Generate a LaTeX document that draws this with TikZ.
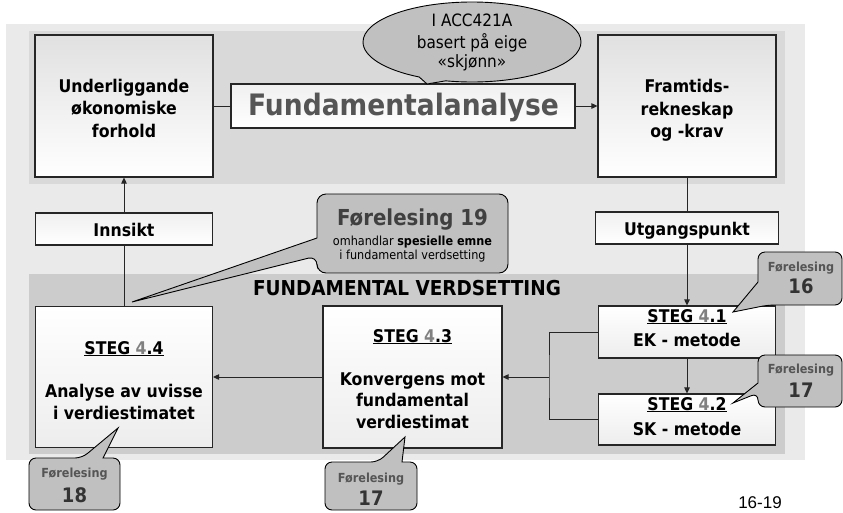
\documentclass[tikz,border=0pt]{standalone}
\usepackage{fontspec}
\setmainfont{DejaVu Sans Condensed}
\newfontfamily\arialf{Liberation Sans}
\usetikzlibrary{arrows.meta,shapes.callouts}
\definecolor{bgA}{HTML}{EAEAEA}
\definecolor{bgB}{HTML}{D9D9D9}
\definecolor{bgC}{HTML}{CCCCCC}
\definecolor{cg}{HTML}{C0C0C0}
\definecolor{tg}{HTML}{555555}
\definecolor{dg}{HTML}{808080}
\definecolor{ng}{HTML}{333333}
\begin{document}
\begin{tikzpicture}[x=1pt,y=-1pt,
  box/.style={draw=black!85, line width=1.1pt, top color=black!12, bottom color=white, inner sep=0pt},
  lbox/.style={draw=black!85, line width=1.1pt, top color=white, bottom color=black!7, inner sep=0pt},
  lab/.style={anchor=base, inner sep=0pt},
  bt/.style={lab, font=\bfseries\fontsize{17.5}{22}\selectfont},
  ct/.style={lab, font=\fontsize{17}{20}\selectfont},
  smf/.style={lab, font=\bfseries\fontsize{12.5}{15}\selectfont, text=tg},
  smn/.style={lab, font=\bfseries\fontsize{20}{24}\selectfont, text=ng},
  cal/.style={draw=black, line width=0.9pt, fill=cg},
  conn/.style={draw=black!85, line width=0.9pt},
  arr/.style={conn, -{Triangle[length=6pt,width=5.5pt]}}
]
\useasboundingbox (0,0) rectangle (843,512);
% backgrounds
\fill[white] (0,0) rectangle (843,512);
\fill[bgA] (6,24) rectangle (805,460);
\fill[bgB] (29,31) rectangle (785,184);
\fill[bgC] (29,274) rectangle (785,454);

% boxes
\node[box, minimum width=178pt, minimum height=142pt] (und) at (124,106) {};
\node[box, minimum width=178pt, minimum height=142pt] (fr) at (687,106) {};
\node[box, top color=black!6, minimum width=344pt, minimum height=44pt] (fa) at (403,106) {};
\node[box, top color=black!6, minimum width=177pt, minimum height=32pt] (inn) at (124,229) {};
\node[box, top color=black!6, minimum width=183pt, minimum height=32pt] (utg) at (687,228) {};
\node[lbox, minimum width=177pt, minimum height=141pt] (s44) at (124,377) {};
\node[lbox, minimum width=179pt, minimum height=142pt] (s43) at (412.5,377) {};
\node[lbox, minimum width=177pt, minimum height=52pt] (s41) at (687,332) {};
\node[lbox, minimum width=177pt, minimum height=51pt] (s42) at (687,419.5) {};

% connectors
\draw[conn] (und.east) -- (fa.west);
\draw[arr] (fa.east) -- (fr.west);
\draw[arr] (inn.north) -- (und.south);
\draw[conn] (s44.north) -- (inn.south);
\draw[conn] (fr.south) -- (utg.north);
\draw[arr] (utg.south) -- (s41.north);
\draw[arr] (s41.south) -- (s42.north);
\coordinate (jn) at (549,377);
\draw[conn] (s41.west) -| (jn) |- (s42.west);
\draw[arr] (jn) -- (s43.east);
\draw[arr] (s43.west) -- (s44.east);

% box texts
\node[bt] (u1) at (124,92) {Underliggande};
\node[bt] (u2) at (124,114.5) {økonomiske};
\node[bt] (u3) at (124,137) {forhold};
\node[bt] (f1) at (687,92.5) {Framtids-};
\node[bt] (f2) at (687,115) {rekneskap};
\node[bt] (f3) at (687,137.5) {og -krav};
\node[lab, font=\bfseries\fontsize{29.5}{34}\selectfont, text=tg] (fat) at (403.5,115) {Fundamentalanalyse};
\node[bt] (it) at (124,236) {Innsikt};
\node[bt] (ut) at (687,235) {Utgangspunkt};
\node[lab, font=\bfseries\fontsize{20.5}{24}\selectfont] (fv) at (407,295) {FUNDAMENTAL VERDSETTING};

\node[bt] (a1) at (124,354) {\underline{STEG \textcolor{dg}{4}.4}};
\node[bt] (a2) at (124,397) {Analyse av uvisse};
\node[bt] (a3) at (124,419) {i verdiestimatet};
\node[bt] (b1) at (412.5,342) {\underline{STEG \textcolor{dg}{4}.3}};
\node[bt] (b2) at (412.5,385) {Konvergens mot};
\node[bt] (b3) at (412.5,406.5) {fundamental};
\node[bt] (b4) at (412.5,428) {verdiestimat};
\node[bt] (c1) at (687,322) {\underline{STEG \textcolor{dg}{4}.1}};
\node[bt] (c2) at (687,346) {EK - metode};
\node[bt] (d1) at (687,410) {\underline{STEG \textcolor{dg}{4}.2}};
\node[bt] (d2) at (687,435) {SK - metode};

% ellipse callout
\node[ellipse callout, cal, minimum width=218pt, minimum height=80pt, inner sep=0pt,
  callout absolute pointer={(427,84)}] (ell) at (472,42) {};
\node[ct] (e1) at (472,26) {I ACC421A};
\node[ct] (e2) at (472,48) {basert på eige};
\node[ct] (e3) at (472,67) {«skjønn»};

% callout Forelesing 19
\draw[cal, rounded corners=9pt] (412,194) -- (508,194) -- (508,273) -- (317,273) -- (317,256)
  [sharp corners] -- (132,302) -- (317,238) [rounded corners=9pt] -- (317,194) -- cycle;
\node[lab, font=\bfseries\fontsize{22}{26}\selectfont, text=black!75] (g1) at (412.5,225) {Førelesing 19};
\node[lab, font=\fontsize{12.5}{15}\selectfont] (g2) at (412.5,245) {omhandlar \textbf{spesielle emne}};
\node[lab, font=\fontsize{12.5}{15}\selectfont] (g3) at (412.5,259) {i fundamental verdsetting};

% callout Forelesing 16
\draw[cal, rounded corners=7pt] (800,252) -- (842,252) -- (842,305) -- (768,305)
  [sharp corners] -- (733,312) -- (758,282) [rounded corners=7pt] -- (758,252) -- cycle;
\node[smf] (h1) at (801,271) {Førelesing};
\node[smn] (h2) at (801,293) {16};

% callout Forelesing 17 (right)
\draw[cal, rounded corners=7pt] (800,355) -- (842,355) -- (842,407) -- (758,407) -- (758,393)
  [sharp corners] -- (733,403) -- (758,383) [rounded corners=7pt] -- (758,355) -- cycle;
\node[smf] (k1) at (801,373) {Førelesing};
\node[smn] (k2) at (801,397) {17};

% callout Forelesing 18
\draw[cal, rounded corners=7pt] (29,484) -- (29,458) -- (82,458)
  [sharp corners] -- (118,428) -- (103,458) [rounded corners=7pt] -- (120,458) -- (120,510) -- (29,510) -- cycle;
\node[smf] (m1) at (74.5,477) {Førelesing};
\node[smn] (m2) at (74.5,502) {18};

% callout Forelesing 17 (bottom)
\draw[cal, rounded corners=7pt] (325,486) -- (325,462) -- (378,462)
  [sharp corners] -- (405,437) -- (402,462) [rounded corners=7pt] -- (417,462) -- (417,510) -- (325,510) -- cycle;
\node[smf] (n1) at (371,482) {Førelesing};
\node[smn] (n2) at (371,505) {17};

% page number
\node[lab, font=\arialf\fontsize{17}{20}\selectfont] (pg) at (760,508) {16-19};
\end{tikzpicture}
\end{document}
